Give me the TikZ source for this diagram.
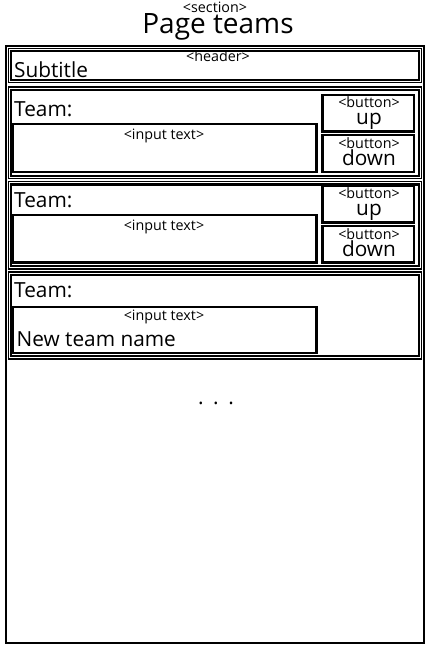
\documentclass[tikz,border=0pt]{standalone}
\usepackage{fontspec}
\setmainfont{Open Sans}
\newcommand\wbox[6]{\node[#6, minimum width={#4-#2}, minimum height={#5-#3}] (#1) at (#2,-#3) {};}
\tikzset{
  anybox/.style={draw, inner sep=0pt, outer sep=0pt, anchor=north west},
  secbox/.style={anybox, line width=2.2pt},
  obox/.style={anybox, line width=1.1pt},
  ibox/.style={anybox, line width=2.2pt},
  ctrl/.style={anybox, line width=2.2pt},
  small/.style={inner sep=0pt, font=\fontsize{14.3}{16}\selectfont},
  big/.style={inner sep=0pt, font=\fontsize{20.8}{24}\selectfont},
  huge/.style={inner sep=0pt, font=\fontsize{28}{32}\selectfont},
}
\begin{document}
\begin{tikzpicture}[x=1pt,y=1pt]
\useasboundingbox (0,0) rectangle (430,-650);
% section
\node[small, anchor=base] (secl) at (215,-13) {<section>};
\node[huge, anchor=base] (title) at (218,-33.5) {Page teams};
\wbox{sec}{6}{46}{424}{643}{secbox}
% header
\wbox{hdrO}{8.5}{48.5}{421.5}{82.5}{obox}
\wbox{hdrI}{11}{51}{419}{80}{ibox}
\node[small, anchor=base] (hdrl) at (218,-61.5) {<header>};
\node[big, anchor=base west] (sub) at (14,-77.5) {Subtitle};
% team 1
\wbox{t1O}{8.5}{87}{421.5}{178.2}{obox}
\wbox{t1I}{11}{89.8}{419}{175.6}{ibox}
\node[big, anchor=base west] (t1l) at (14,-116.5) {Team:};
\wbox{in1}{13}{124.2}{316.5}{171.6}{ctrl}
\node[small, anchor=base] (in1l) at (164,-139.5) {<input text>};
\wbox{up1}{322.5}{94.8}{414.2}{131.5}{ctrl}
\node[small, anchor=base] (up1l) at (369,-107.7) {<button>};
\node[big, anchor=base] (up1t) at (369,-124.3) {up};
\wbox{dn1}{322.5}{135.2}{414.2}{171.6}{ctrl}
\node[small, anchor=base] (dn1l) at (369,-148.3) {<button>};
\node[big, anchor=base] (dn1t) at (369,-165) {down};
% team 2
\wbox{t2O}{8.5}{181.8}{421.5}{269}{obox}
\wbox{t2I}{11}{184.5}{419}{266.3}{ibox}
\node[big, anchor=base west] (t2l) at (14,-207.5) {Team:};
\wbox{in2}{13}{215}{316.5}{262.5}{ctrl}
\node[small, anchor=base] (in2l) at (164,-230.3) {<input text>};
\wbox{up2}{322.5}{185.8}{414.2}{222.5}{ctrl}
\node[small, anchor=base] (up2l) at (369,-198.7) {<button>};
\node[big, anchor=base] (up2t) at (369,-215.3) {up};
\wbox{dn2}{322.5}{226.2}{414.2}{262.5}{ctrl}
\node[small, anchor=base] (dn2l) at (369,-239.3) {<button>};
\node[big, anchor=base] (dn2t) at (369,-256) {down};
% team 3
\wbox{t3O}{8.5}{272}{421.5}{359}{obox}
\wbox{t3I}{11}{274.8}{419}{356.3}{ibox}
\node[big, anchor=base west] (t3l) at (14,-297.5) {Team:};
\wbox{in3}{13}{306.8}{316.5}{353.2}{ctrl}
\node[small, anchor=base] (in3l) at (164,-320.5) {<input text>};
\node[big, anchor=base west] (in3t) at (16.5,-346) {New team name};
% ellipsis
\node[big, anchor=base] (dots) at (216,-404) {.\hspace{9.5pt}.\hspace{9.5pt}.};
\end{tikzpicture}
\end{document}
